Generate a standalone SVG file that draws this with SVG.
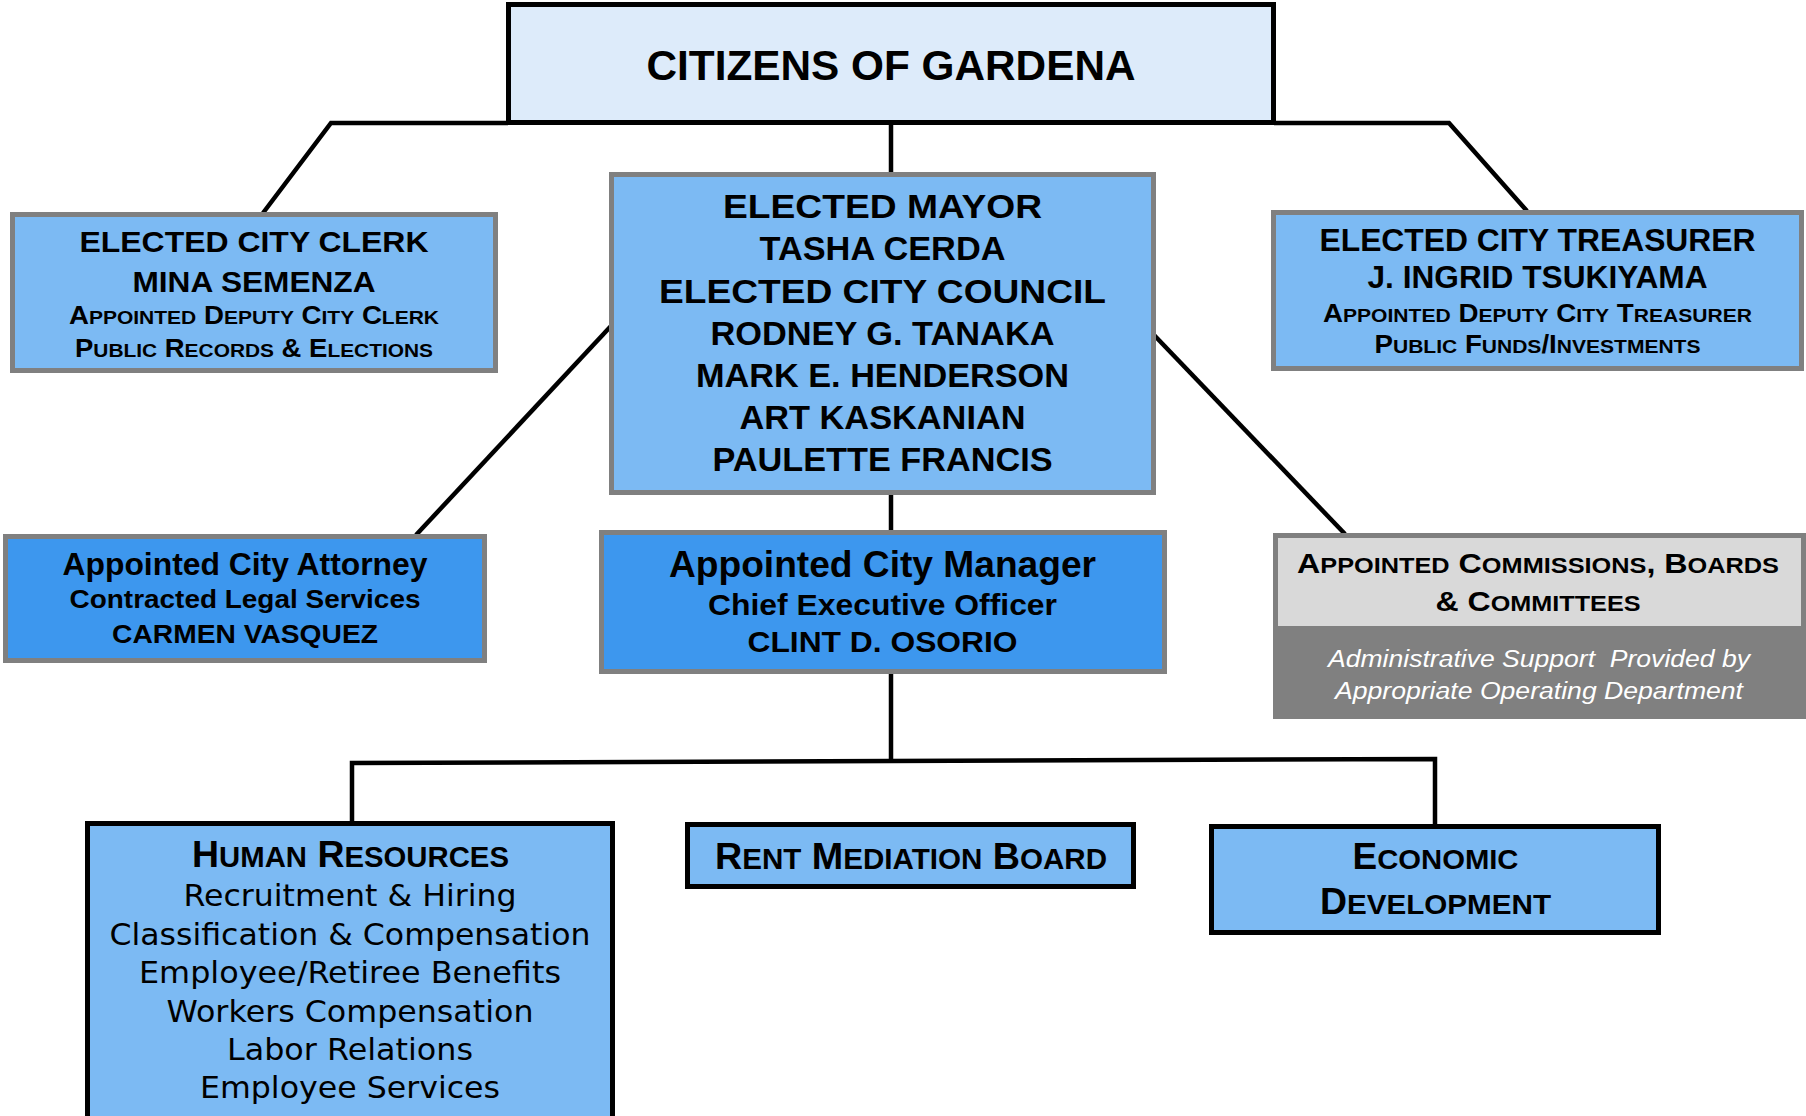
<svg xmlns="http://www.w3.org/2000/svg" width="1806" height="1116" viewBox="0 0 1806 1116">
<style>
.t{font-family:"Liberation Sans",Arial,sans-serif;font-weight:bold;fill:#000;text-anchor:middle}
.i{font-family:"Liberation Sans",Arial,sans-serif;font-style:italic;fill:#fff;text-anchor:middle}
.v{font-family:"DejaVu Sans",Verdana,sans-serif;fill:#000;text-anchor:middle}
.lb{fill:#7CBAF3;stroke:#808080;stroke-width:5}
.db{fill:#3D97EE;stroke:#808080;stroke-width:5}
.kb{fill:#7CBAF3;stroke:#000;stroke-width:5}
.c{fill:none;stroke:#000;stroke-width:4.5;stroke-linejoin:miter}
</style>
<rect width="1806" height="1116" fill="#fff"/>
<g id="connectors">
<polyline class="c" points="508,123 331,123 263,213"/>
<polyline class="c" points="1274,123 1449,123 1527,211"/>
<line class="c" x1="891" y1="123" x2="891" y2="174"/>
<line class="c" x1="611" y1="326" x2="416" y2="535"/>
<line class="c" x1="1154" y1="335" x2="1345" y2="534"/>
<line class="c" x1="891" y1="493" x2="891" y2="532"/>
<line class="c" x1="891" y1="672" x2="891" y2="762"/>
<polyline class="c" points="352,823 352,763 1435,759 1435,826"/>
</g>
<g id="citizens">
<rect x="508.5" y="4.5" width="765" height="118" fill="#DDEBFA" stroke="#000" stroke-width="5"/>
<text class="t" x="891" y="80" font-size="42" textLength="489" lengthAdjust="spacingAndGlyphs">CITIZENS OF GARDENA</text>
</g>
<g id="clerk">
<rect class="lb" x="12.5" y="214.5" width="483" height="156"/>
<text class="t" x="254" y="252" font-size="30" textLength="349" lengthAdjust="spacingAndGlyphs">ELECTED CITY CLERK</text>
<text class="t" x="254" y="292" font-size="30" textLength="243" lengthAdjust="spacingAndGlyphs">MINA SEMENZA</text>
<text class="t" x="254" y="324" font-size="25" textLength="370" lengthAdjust="spacingAndGlyphs">A<tspan font-size="19">PPOINTED</tspan> D<tspan font-size="19">EPUTY</tspan> C<tspan font-size="19">ITY</tspan> C<tspan font-size="19">LERK</tspan></text>
<text class="t" x="254" y="357" font-size="25" textLength="358" lengthAdjust="spacingAndGlyphs">P<tspan font-size="19">UBLIC</tspan> R<tspan font-size="19">ECORDS</tspan> &amp; E<tspan font-size="19">LECTIONS</tspan></text>
</g>
<g id="treasurer">
<rect class="lb" x="1273.5" y="212.5" width="528" height="156"/>
<text class="t" x="1537.5" y="251" font-size="31" textLength="436" lengthAdjust="spacingAndGlyphs">ELECTED CITY TREASURER</text>
<text class="t" x="1537.5" y="288" font-size="31" textLength="340" lengthAdjust="spacingAndGlyphs">J. INGRID TSUKIYAMA</text>
<text class="t" x="1537.5" y="322" font-size="25" textLength="429" lengthAdjust="spacingAndGlyphs">A<tspan font-size="19">PPOINTED</tspan> D<tspan font-size="19">EPUTY</tspan> C<tspan font-size="19">ITY</tspan> T<tspan font-size="19">REASURER</tspan></text>
<text class="t" x="1537.5" y="353" font-size="25" textLength="326" lengthAdjust="spacingAndGlyphs">P<tspan font-size="19">UBLIC</tspan> F<tspan font-size="19">UNDS</tspan>/I<tspan font-size="19">NVESTMENTS</tspan></text>
</g>
<g id="mayor">
<rect class="lb" x="611.5" y="174.5" width="542" height="318"/>
<text class="t" x="882.5" y="218" font-size="34" textLength="319" lengthAdjust="spacingAndGlyphs">ELECTED MAYOR</text>
<text class="t" x="882.5" y="260" font-size="34" textLength="246" lengthAdjust="spacingAndGlyphs">TASHA CERDA</text>
<text class="t" x="882.5" y="303" font-size="34" textLength="447" lengthAdjust="spacingAndGlyphs">ELECTED CITY COUNCIL</text>
<text class="t" x="882.5" y="345" font-size="34" textLength="344" lengthAdjust="spacingAndGlyphs">RODNEY G. TANAKA</text>
<text class="t" x="882.5" y="387" font-size="34" textLength="373" lengthAdjust="spacingAndGlyphs">MARK E. HENDERSON</text>
<text class="t" x="882.5" y="429" font-size="34" textLength="286" lengthAdjust="spacingAndGlyphs">ART KASKANIAN</text>
<text class="t" x="882.5" y="471" font-size="34" textLength="340" lengthAdjust="spacingAndGlyphs">PAULETTE FRANCIS</text>
</g>
<g id="attorney">
<rect class="db" x="5.5" y="536.5" width="479" height="124"/>
<text class="t" x="245" y="575" font-size="31" textLength="365" lengthAdjust="spacingAndGlyphs">Appointed City Attorney</text>
<text class="t" x="245" y="608" font-size="25.5" textLength="351" lengthAdjust="spacingAndGlyphs">Contracted Legal Services</text>
<text class="t" x="245" y="643" font-size="26.5" textLength="266" lengthAdjust="spacingAndGlyphs">CARMEN VASQUEZ</text>
</g>
<g id="manager">
<rect class="db" x="601.5" y="532.5" width="563" height="139"/>
<text class="t" x="882.5" y="577" font-size="37" textLength="427" lengthAdjust="spacingAndGlyphs">Appointed City Manager</text>
<text class="t" x="882.5" y="615" font-size="30" textLength="349" lengthAdjust="spacingAndGlyphs">Chief Executive Officer</text>
<text class="t" x="882.5" y="652" font-size="30" textLength="270" lengthAdjust="spacingAndGlyphs">CLINT D. OSORIO</text>
</g>
<g id="commissions">
<rect x="1275.5" y="535.5" width="528" height="181" fill="#808080" stroke="#808080" stroke-width="5"/>
<rect x="1278" y="538" width="523" height="88" fill="#D9D9D9"/>
<text class="t" x="1538" y="573" font-size="28" textLength="482" lengthAdjust="spacingAndGlyphs">A<tspan font-size="22">PPOINTED</tspan> C<tspan font-size="22">OMMISSIONS</tspan>, B<tspan font-size="22">OARDS</tspan></text>
<text class="t" x="1538" y="611" font-size="28" textLength="205" lengthAdjust="spacingAndGlyphs">&amp; C<tspan font-size="22">OMMITTEES</tspan></text>
<text class="i" x="1539" y="667" font-size="24.5" textLength="422" lengthAdjust="spacingAndGlyphs" xml:space="preserve">Administrative Support  Provided by</text>
<text class="i" x="1539" y="699" font-size="24.5" textLength="408" lengthAdjust="spacingAndGlyphs">Appropriate Operating Department</text>
</g>
<g id="human-resources">
<rect class="kb" x="87.5" y="823.5" width="525" height="310"/>
<text class="t" x="350.5" y="867" font-size="37" textLength="317" lengthAdjust="spacingAndGlyphs">H<tspan font-size="29">UMAN</tspan> R<tspan font-size="29">ESOURCES</tspan></text>
<text class="v" x="350" y="906" font-size="30.5" textLength="333" lengthAdjust="spacingAndGlyphs">Recruitment &amp; Hiring</text>
<text class="v" x="350" y="945" font-size="30.5" textLength="481" lengthAdjust="spacingAndGlyphs">Classification &amp; Compensation</text>
<text class="v" x="350" y="983" font-size="30.5" textLength="422" lengthAdjust="spacingAndGlyphs">Employee/Retiree Benefits</text>
<text class="v" x="350" y="1022" font-size="30.5" textLength="367" lengthAdjust="spacingAndGlyphs">Workers Compensation</text>
<text class="v" x="350" y="1060" font-size="30.5" textLength="246" lengthAdjust="spacingAndGlyphs">Labor Relations</text>
<text class="v" x="350" y="1098" font-size="30.5" textLength="300" lengthAdjust="spacingAndGlyphs">Employee Services</text>
</g>
<g id="rent-mediation-board">
<rect class="kb" x="687.5" y="824.5" width="446" height="62"/>
<text class="t" x="911" y="869" font-size="37" textLength="392" lengthAdjust="spacingAndGlyphs">R<tspan font-size="29">ENT</tspan> M<tspan font-size="29">EDIATION</tspan> B<tspan font-size="29">OARD</tspan></text>
</g>
<g id="economic-development">
<rect class="kb" x="1211.5" y="826.5" width="447" height="106"/>
<text class="t" x="1435.5" y="869" font-size="36" textLength="166" lengthAdjust="spacingAndGlyphs">E<tspan font-size="28.5">CONOMIC</tspan></text>
<text class="t" x="1435.5" y="914" font-size="36" textLength="231" lengthAdjust="spacingAndGlyphs">D<tspan font-size="28.5">EVELOPMENT</tspan></text>
</g>
</svg>
